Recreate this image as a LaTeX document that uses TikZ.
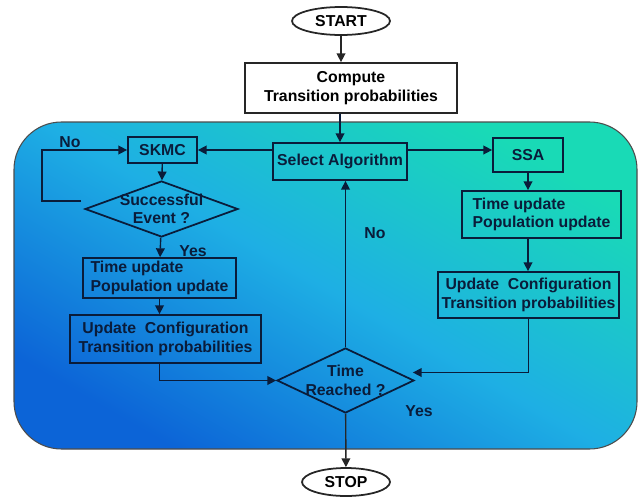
\documentclass[tikz,border=0pt]{standalone}
\usepackage{fontspec}
\setmainfont{Liberation Sans}
\usetikzlibrary{shapes.geometric,arrows.meta}
\definecolor{bgblue}{RGB}{12,100,215}
\definecolor{bgcyan}{RGB}{30,175,228}
\definecolor{bgteal}{RGB}{25,218,182}
\definecolor{inkblue}{RGB}{10,28,58}

\begin{document}
\begin{tikzpicture}[x=0.02cm,y=-0.02cm,
	font=\fontsize{9}{10.5}\selectfont\bfseries,
	box/.style={draw=inkblue,line width=1pt,inner sep=0pt,align=center,text=inkblue},
	term/.style={draw=black!85,ellipse,line width=1pt,minimum width=1.96cm,minimum height=0.56cm,inner sep=0pt},
	decide/.style={draw=inkblue,diamond,line width=1pt,inner xsep=-0.45cm,inner ysep=0pt,align=center,text=inkblue},
	flow/.style={draw=inkblue,line width=0.8pt,-{Triangle[length=5pt,width=5pt]}}]
	\useasboundingbox (0,0) rectangle (638,497);
	% shaded panel
	\shade[draw=black!70,line width=0.6pt,rounded corners=0.95cm,left color=bgblue,right color=bgteal,middle color=bgcyan,shading angle=150] (14,122) rectangle (637,449);
	% outer part
	\node[term] (start) at (341,21) {START};
	\node[box,draw=black!85,text=black,minimum width=4.24cm,minimum height=1cm] (compute) at (351,88) {Compute\\Transition probabilities};
	\node[term,minimum width=1.76cm] (stop) at (346,482) {STOP};
	% panel
	\node[box,minimum width=2.68cm,minimum height=0.74cm] (select) at (340,161.5) {Select Algorithm};
	\node[box,minimum width=1.38cm,minimum height=0.52cm] (skmc) at (162.5,150) {SKMC};
	\node[box,minimum width=1.4cm,minimum height=0.68cm] (ssa) at (528,155) {SSA};
	\node[decide,aspect=2.73,minimum width=3.06cm,minimum height=1.12cm] (succ) at (161.5,209) {Successful\\Event ?};
	\node[box,align=left,minimum width=3.06cm,minimum height=0.8cm] (tupL) at (159.5,278) {Time update\\Population update};
	\node[box,align=left,minimum width=3.18cm,minimum height=0.94cm] (tupR) at (541.5,214.5) {Time update\\Population update};
	\node[box,minimum width=3.82cm,minimum height=0.96cm] (updL) at (165.5,339) {Update\ \ Configuration\\Transition probabilities};
	\node[box,minimum width=3.62cm,minimum height=0.92cm] (updR) at (528.5,295) {Update\ \ Configuration\\Transition probabilities};
	\node[decide,aspect=2.1,minimum width=2.74cm,minimum height=1.3cm] (timeD) at (345.5,380.5) {Time\\Reached ?};
	% labels
	\node[text=inkblue] (noL) at (70,142) {No};
	\node[text=inkblue] (yesL) at (193,251) {Yes};
	\node[text=inkblue] (noM) at (375,233) {No};
	\node[text=inkblue] (yesM) at (419,411) {Yes};
	% arrows
	\draw[flow,draw=black!85] (start) -- (start |- compute.north);
	\draw[flow] (select |- compute.south) -- (select);
	\draw[flow] (select.west |- skmc) -- (skmc);
	\draw[flow] (select.east |- skmc) -- (ssa.west |- skmc);
	\draw[flow] (skmc) -- (succ);
	\draw[flow] ([shift={(-3,-8)}]succ.west) -- ++(-39,0) |- (skmc);
	\draw[flow] (succ) -- (tupL);
	\draw[flow] (tupL.south) -- (tupL.south |- updL.north);
	\draw[flow] (tupL.south |- updL.south) |- (timeD);
	\draw[flow] (ssa.south) -- (ssa.south |- tupR.north);
	\draw[flow] (ssa.south |- tupR.south) -- (ssa.south |- updR.north);
	\draw[flow] (updR.south) |- ([shift={(-2,-8)}]timeD.east);
	\draw[flow] (timeD) -- (timeD |- select.south);
	\draw[flow,draw=black!85] (timeD) -- (stop);
\end{tikzpicture}
\end{document}
